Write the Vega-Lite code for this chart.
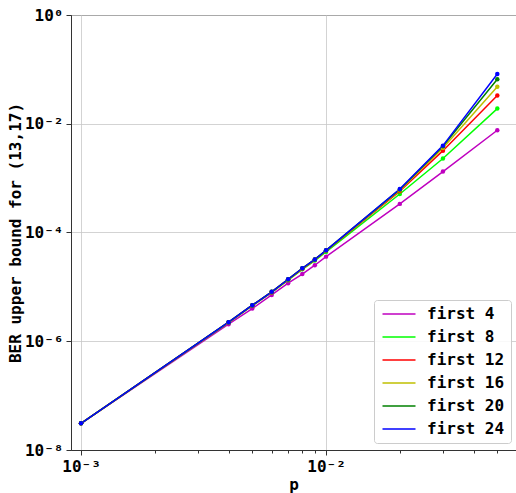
{
  "$schema": "https://vega.github.io/schema/vega-lite/v6.json",
  "width": 445,
  "height": 435,
  "autosize": "none",
  "padding": {"left": 71, "top": 15, "right": 0, "bottom": 43},
  "background": "white",
  "config": {
    "font": "DejaVu Sans Mono",
    "view": {"stroke": "#333333", "strokeWidth": 1},
    "axis": {
      "labelFont": "DejaVu Sans Mono",
      "labelFontWeight": "bold",
      "labelFontSize": 16,
      "labelColor": "black",
      "titleFont": "DejaVu Sans Mono",
      "titleFontWeight": "bold",
      "titleFontSize": 16,
      "titleColor": "black",
      "tickColor": "#333333",
      "domainColor": "#333333",
      "gridColor": "#c8c8c8",
      "gridWidth": 0.8
    }
  },
  "data": {
    "values": [
      {"p": 0.001, "series": "first 4", "ber": 3.1e-8},
      {"p": 0.004, "series": "first 4", "ber": 2.06e-6},
      {"p": 0.005, "series": "first 4", "ber": 4.0e-6},
      {"p": 0.006, "series": "first 4", "ber": 7.1e-6},
      {"p": 0.007, "series": "first 4", "ber": 1.17e-5},
      {"p": 0.008, "series": "first 4", "ber": 1.72e-5},
      {"p": 0.009, "series": "first 4", "ber": 2.5e-5},
      {"p": 0.01, "series": "first 4", "ber": 3.6e-5},
      {"p": 0.02, "series": "first 4", "ber": 3.36e-4},
      {"p": 0.03, "series": "first 4", "ber": 1.32e-3},
      {"p": 0.05, "series": "first 4", "ber": 7.6e-3},
      {"p": 0.001, "series": "first 8", "ber": 3.1e-8},
      {"p": 0.004, "series": "first 8", "ber": 2.2e-6},
      {"p": 0.005, "series": "first 8", "ber": 4.5e-6},
      {"p": 0.006, "series": "first 8", "ber": 7.9e-6},
      {"p": 0.007, "series": "first 8", "ber": 1.33e-5},
      {"p": 0.008, "series": "first 8", "ber": 2.1e-5},
      {"p": 0.009, "series": "first 8", "ber": 3.05e-5},
      {"p": 0.01, "series": "first 8", "ber": 4.4e-5},
      {"p": 0.02, "series": "first 8", "ber": 5.1e-4},
      {"p": 0.03, "series": "first 8", "ber": 2.3e-3},
      {"p": 0.05, "series": "first 8", "ber": 0.019},
      {"p": 0.001, "series": "first 12", "ber": 3.1e-8},
      {"p": 0.004, "series": "first 12", "ber": 2.22e-6},
      {"p": 0.005, "series": "first 12", "ber": 4.55e-6},
      {"p": 0.006, "series": "first 12", "ber": 8.0e-6},
      {"p": 0.007, "series": "first 12", "ber": 1.36e-5},
      {"p": 0.008, "series": "first 12", "ber": 2.15e-5},
      {"p": 0.009, "series": "first 12", "ber": 3.15e-5},
      {"p": 0.01, "series": "first 12", "ber": 4.6e-5},
      {"p": 0.02, "series": "first 12", "ber": 5.75e-4},
      {"p": 0.03, "series": "first 12", "ber": 3.2e-3},
      {"p": 0.05, "series": "first 12", "ber": 0.033},
      {"p": 0.001, "series": "first 16", "ber": 3.1e-8},
      {"p": 0.004, "series": "first 16", "ber": 2.23e-6},
      {"p": 0.005, "series": "first 16", "ber": 4.6e-6},
      {"p": 0.006, "series": "first 16", "ber": 8.1e-6},
      {"p": 0.007, "series": "first 16", "ber": 1.37e-5},
      {"p": 0.008, "series": "first 16", "ber": 2.18e-5},
      {"p": 0.009, "series": "first 16", "ber": 3.18e-5},
      {"p": 0.01, "series": "first 16", "ber": 4.65e-5},
      {"p": 0.02, "series": "first 16", "ber": 6.0e-4},
      {"p": 0.03, "series": "first 16", "ber": 3.6e-3},
      {"p": 0.05, "series": "first 16", "ber": 0.048},
      {"p": 0.001, "series": "first 20", "ber": 3.1e-8},
      {"p": 0.004, "series": "first 20", "ber": 2.24e-6},
      {"p": 0.005, "series": "first 20", "ber": 4.6e-6},
      {"p": 0.006, "series": "first 20", "ber": 8.1e-6},
      {"p": 0.007, "series": "first 20", "ber": 1.38e-5},
      {"p": 0.008, "series": "first 20", "ber": 2.2e-5},
      {"p": 0.009, "series": "first 20", "ber": 3.2e-5},
      {"p": 0.01, "series": "first 20", "ber": 4.7e-5},
      {"p": 0.02, "series": "first 20", "ber": 6.2e-4},
      {"p": 0.03, "series": "first 20", "ber": 3.85e-3},
      {"p": 0.05, "series": "first 20", "ber": 0.066},
      {"p": 0.001, "series": "first 24", "ber": 3.1e-8},
      {"p": 0.004, "series": "first 24", "ber": 2.24e-6},
      {"p": 0.005, "series": "first 24", "ber": 4.6e-6},
      {"p": 0.006, "series": "first 24", "ber": 8.1e-6},
      {"p": 0.007, "series": "first 24", "ber": 1.38e-5},
      {"p": 0.008, "series": "first 24", "ber": 2.2e-5},
      {"p": 0.009, "series": "first 24", "ber": 3.2e-5},
      {"p": 0.01, "series": "first 24", "ber": 4.7e-5},
      {"p": 0.02, "series": "first 24", "ber": 6.3e-4},
      {"p": 0.03, "series": "first 24", "ber": 3.96e-3},
      {"p": 0.05, "series": "first 24", "ber": 0.082}
    ]
  },
  "layer": [
    {
      "mark": {"type": "line", "strokeWidth": 1.5},
      "encoding": {
        "x": {
          "field": "p", "type": "quantitative",
          "scale": {"type": "log", "domain": [0.00091, 0.0596], "nice": false},
          "axis": {
            "title": "p",
            "values": [0.001, 0.01],
            "labelExpr": "datum.value < 0.005 ? '10⁻³' : '10⁻²'",
            "grid": true,
            "tickSize": 5,
            "labelPadding": 3,
            "titlePadding": 2
          }
        },
        "y": {
          "field": "ber", "type": "quantitative",
          "scale": {"type": "log", "domain": [1e-8, 1], "nice": false},
          "axis": {
            "title": "BER upper bound for (13,17)",
            "values": [1, 0.01, 0.0001, 0.000001, 0.00000001],
            "labelExpr": "'10' + ['⁰','⁻¹','⁻²','⁻³','⁻⁴','⁻⁵','⁻⁶','⁻⁷','⁻⁸'][abs(round(log(datum.value)/LN10))]",
            "grid": true,
            "tickSize": 5,
            "labelPadding": 3,
            "titlePadding": 1
          }
        },
        "color": {
          "field": "series", "type": "nominal",
          "scale": {
            "domain": ["first 4", "first 8", "first 12", "first 16", "first 20", "first 24"],
            "range": ["#bf00bf", "#00ff00", "#ff0000", "#bfbf00", "#008000", "#0000ff"]
          },
          "legend": {
            "title": null,
            "orient": "none",
            "legendX": 303,
            "legendY": 285,
            "padding": 6,
            "fillColor": "rgba(255,255,255,0.85)",
            "strokeColor": "#cccccc",
            "cornerRadius": 3,
            "symbolType": "M-3,0H3",
            "symbolSize": 121,
            "symbolOffset": 11,
            "symbolStrokeWidth": 1.5,
            "labelOffset": 20,
            "labelFont": "DejaVu Sans Mono",
            "labelFontWeight": "bold",
            "labelFontSize": 16,
            "labelColor": "black",
            "rowPadding": 7
          }
        }
      }
    },
    {
      "mark": {"type": "point", "filled": true, "size": 20, "opacity": 1},
      "encoding": {
        "x": {
          "field": "p", "type": "quantitative",
          "scale": {"type": "log", "domain": [0.00091, 0.0596], "nice": false},
          "axis": {
            "orient": "bottom",
            "title": null,
            "values": [0.002, 0.003, 0.004, 0.005, 0.006, 0.007, 0.008, 0.009, 0.02, 0.03, 0.04, 0.05],
            "labels": false,
            "grid": false,
            "domain": false,
            "tickSize": 3
          }
        },
        "y": {"field": "ber", "type": "quantitative", "scale": {"type": "log", "domain": [1e-8, 1], "nice": false}},
        "color": {"field": "series", "type": "nominal", "legend": null}
      }
    }
  ],
  "resolve": {"axis": {"x": "independent"}}
}
